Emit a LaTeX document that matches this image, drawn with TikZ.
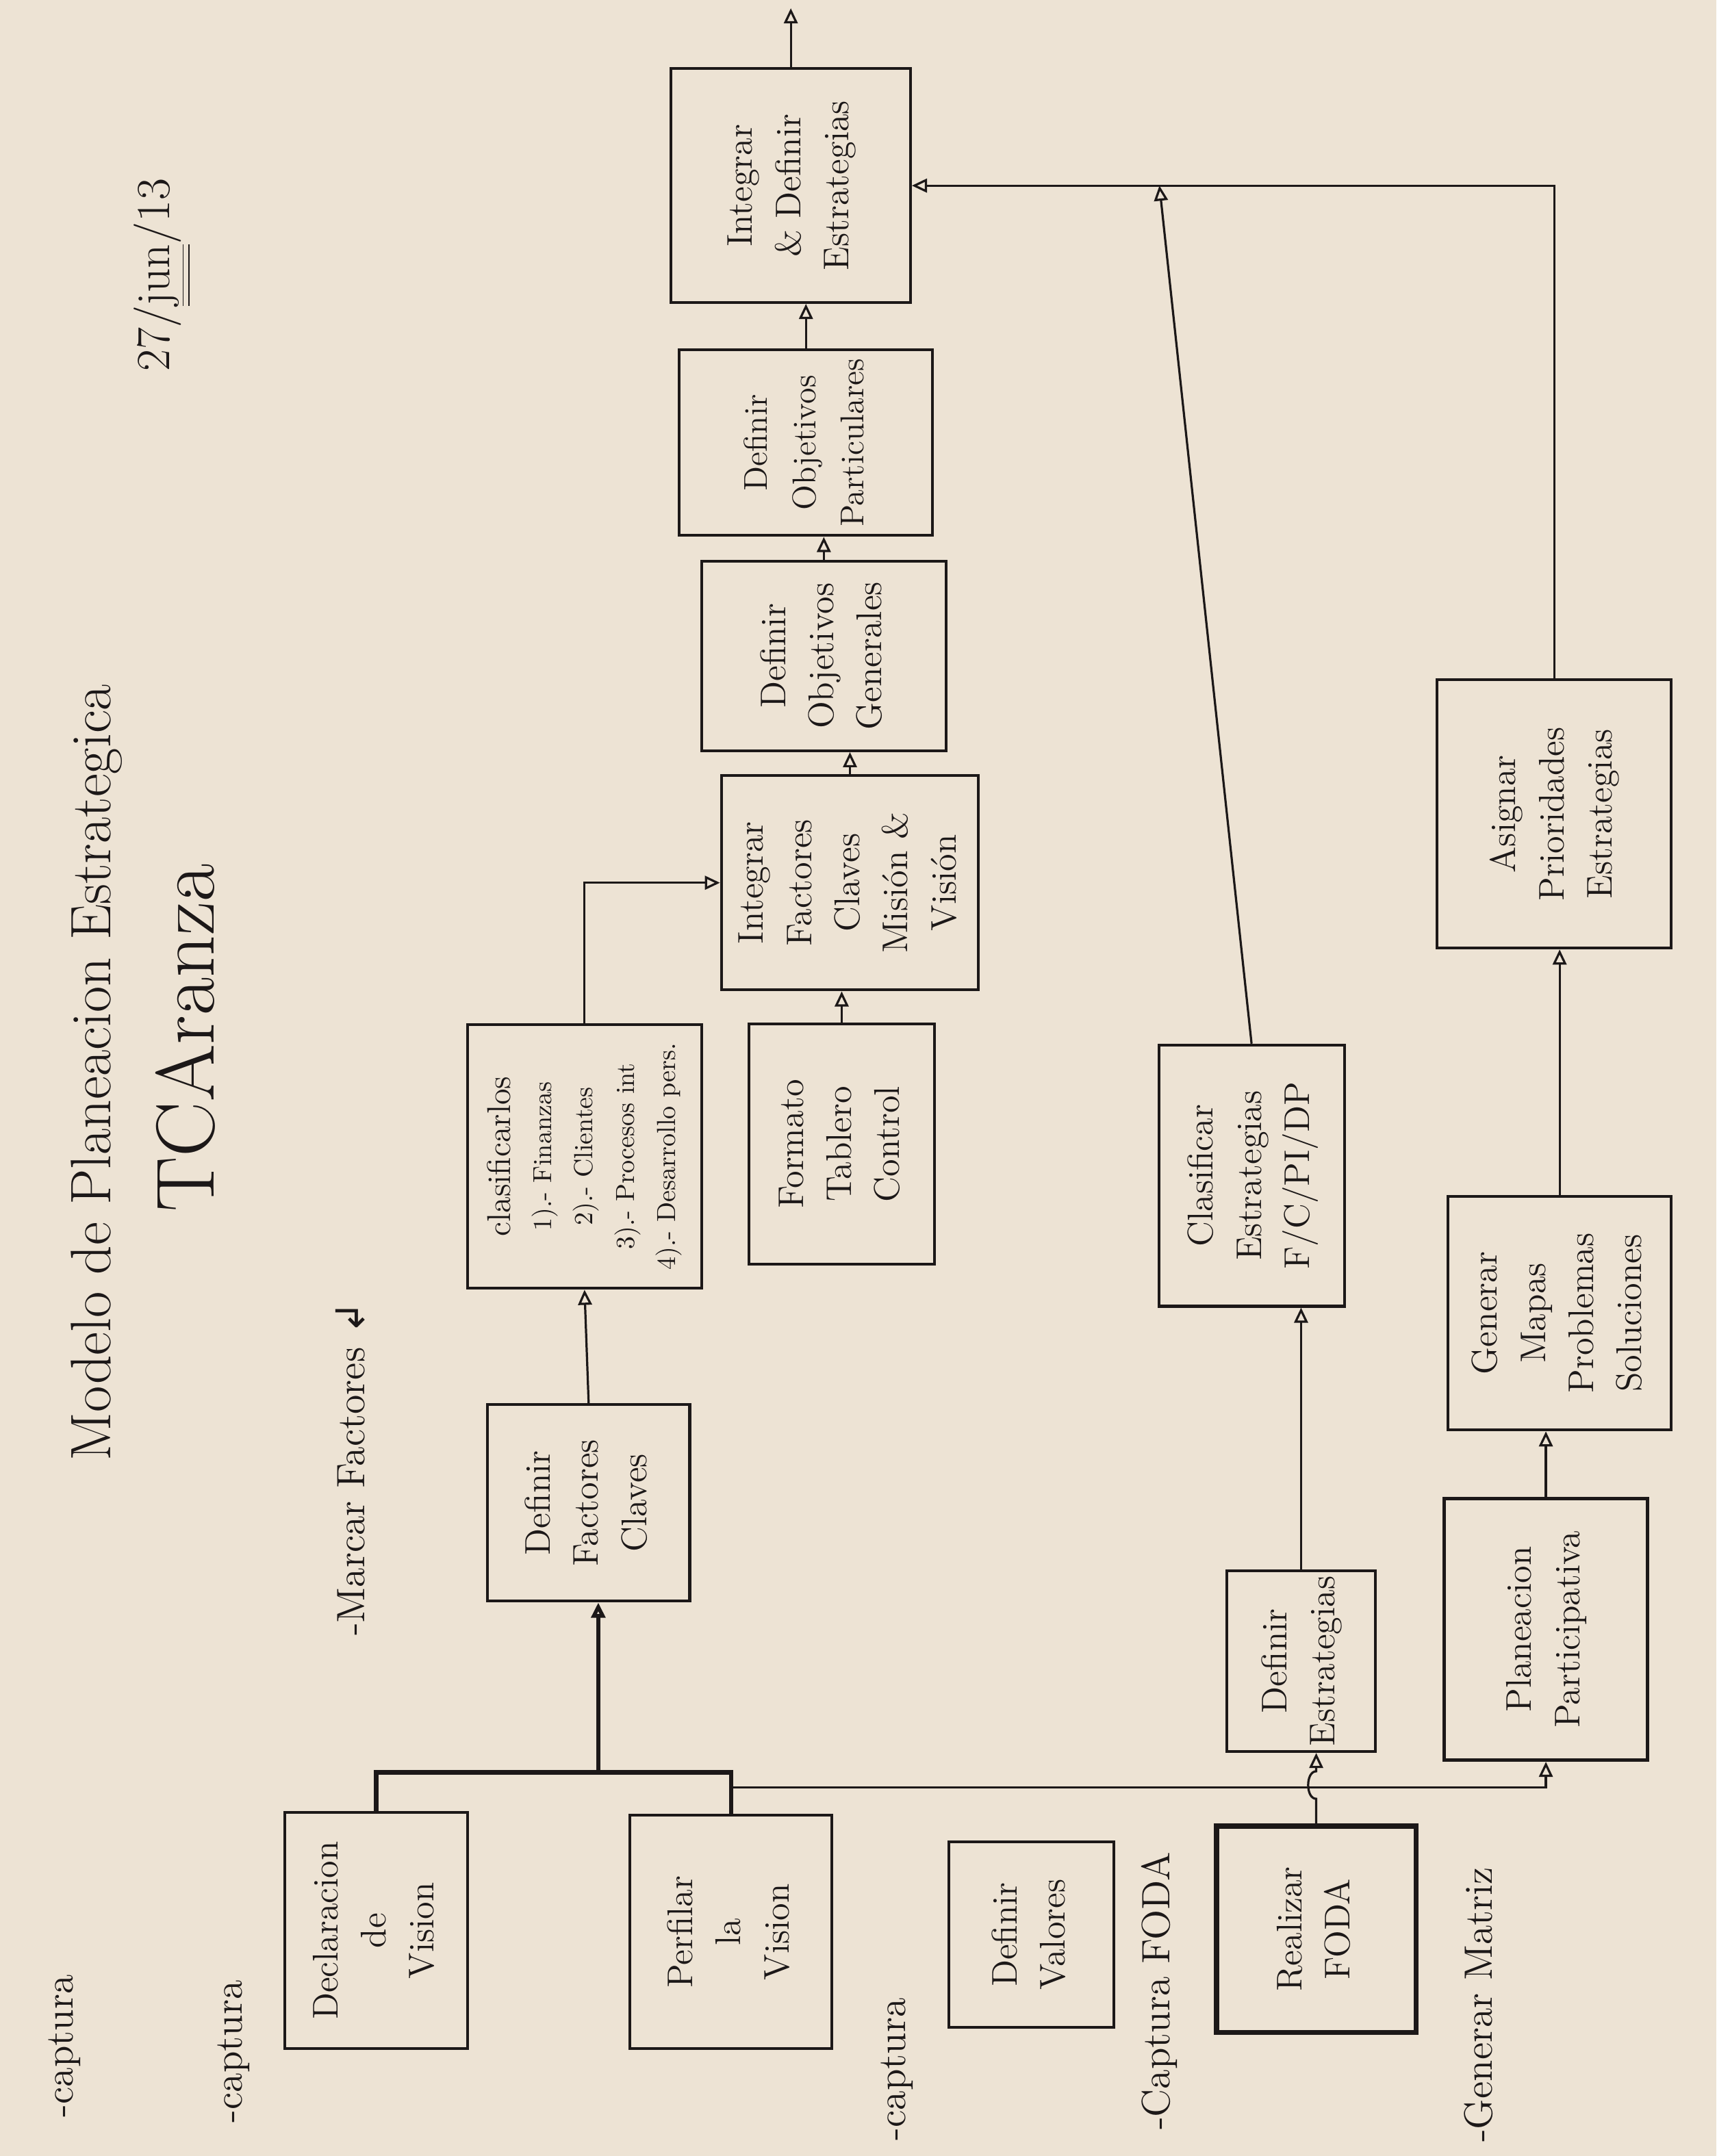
\documentclass[tikz,border=0pt]{standalone}
\usepackage{graphicx}
\usepackage{fontspec}
\newfontfamily\symfont{DejaVu Sans}
\usetikzlibrary{arrows.meta}
\definecolor{paper}{RGB}{237,227,212}
\definecolor{ink}{RGB}{28,24,24}
\newcommand{\vlines}[1]{\rotatebox{90}{\begin{tabular}{@{}c@{}}#1\end{tabular}}}
\newcommand{\lista}[1]{{\fontsize{9.5}{12}\selectfont #1}}
\tikzset{
  caja/.style={draw=ink, line width=1pt, inner sep=2pt, text=ink, font=\fontsize{13}{17.5}\selectfont},
  flecha/.style={draw=ink, line width=0.8pt, -{Triangle[open,length=5.5pt,width=5pt]}},
  nota/.style={text=ink, rotate=90, font=\Large},
}

\begin{document}
\begin{tikzpicture}[x=0.5pt,y=0.5pt,yscale=-1,xscale=1]
%Paper
\fill [paper] (0,0) rectangle (1248,1568);
\useasboundingbox (0,0) rectangle (1248,1568);

% Text Node
\node [text=ink, rotate=90, font=\huge] (titulo) at (70,780) {Modelo de Planeacion Estrategica};
% Text Node
\node [text=ink, rotate=90, font=\fontsize{30}{36}\selectfont] (autor) at (135,755) {TCAranza};
% Text Node
\node [text=ink, rotate=90, font=\LARGE] (fecha) at (118,200) {27/\underline{\underline{jun}}/13};

%Shape: Rectangle
\node [caja, minimum width=66.5pt, minimum height=86pt] (decl) at (273.5,1404) {\vlines{Declaracion\\de\\Vision}};
%Shape: Rectangle
\node [caja, minimum width=73.5pt, minimum height=85pt] (perf) at (531.5,1405) {\vlines{Perfilar\\la\\Vision}};
%Shape: Rectangle
\node [caja, minimum width=60pt, minimum height=67.5pt] (valo) at (750,1407) {\vlines{Definir\\Valores}};
%Shape: Rectangle
\node [caja, line width=1.8pt, minimum width=72.5pt, minimum height=75pt] (foda) at (957,1403) {\vlines{Realizar\\FODA}};
%Shape: Rectangle
\node [caja, minimum width=73.5pt, minimum height=71.5pt] (fact) at (428,1093) {\vlines{Definir\\Factores\\Claves}};
%Shape: Rectangle
\node [caja, font=\fontsize{12}{15}\selectfont, minimum width=85pt, minimum height=96pt] (clas) at (425,841) {\vlines{clasificarlos\\\lista{1).- Finanzas}\\\lista{2).- Clientes}\\\lista{3).- Procesos int}\\\lista{4).- Desarrollo pers.}}};
%Shape: Rectangle
\node [caja, minimum width=67.5pt, minimum height=87.5pt] (tabl) at (612,832) {\vlines{Formato\\Tablero\\Control}};
%Shape: Rectangle
\node [caja, minimum width=93.5pt, minimum height=78pt] (intf) at (618,642) {\vlines{Integrar\\Factores\\Claves\\Misión \&\\Visión}};
%Shape: Rectangle
\node [caja, minimum width=89pt, minimum height=69pt] (objg) at (599,477) {\vlines{Definir\\Objetivos\\Generales}};
%Shape: Rectangle
\node [caja, font=\fontsize{12}{17.5}\selectfont, minimum width=92pt, minimum height=67.5pt] (objp) at (586,322) {\vlines{Definir\\Objetivos\\Particulares}};
%Shape: Rectangle
\node [caja, minimum width=87pt, minimum height=85pt] (estr) at (575,135) {\vlines{Integrar\\\& Definir\\Estrategias}};
%Shape: Rectangle
\node [caja, minimum width=67.5pt, minimum height=95pt] (clae) at (910,855) {\vlines{Clasificar\\Estrategias\\F/C/PI/DP}};
%Shape: Rectangle
\node [caja, minimum width=54pt, minimum height=63.5pt] (defe) at (946,1208) {\vlines{Definir\\Estrategias}};
%Shape: Rectangle
\node [caja, line width=1.3pt, minimum width=74pt, minimum height=95pt] (plan) at (1124,1185) {\vlines{Planeacion\\Participativa}};
%Shape: Rectangle
\node [caja, minimum width=81pt, minimum height=85pt] (mapa) at (1134,955) {\vlines{Generar\\Mapas\\Problemas\\Soluciones}};
%Shape: Rectangle
\node [caja, minimum width=85pt, minimum height=97.5pt] (asig) at (1130,592) {\vlines{Asignar\\Prioridades\\Estrategias}};

% Text Node
\node [nota] (cap1) at (47,1488) {-captura};
% Text Node
\node [nota] (cap2) at (170,1492) {-captura};
% Text Node
\node [nota] (marc) at (255,1068) {-Marcar Factores {\symfont ↲}};
% Text Node
\node [nota] (cap3) at (652,1505) {-captura};
% Text Node
\node [nota] (cap4) at (843,1448) {-Captura FODA};
% Text Node
\node [nota] (matr) at (1075,1458) {-Generar Matriz};

\coordinate (junta) at (435,1289);
\coordinate (codo) at (540,1300);
\coordinate (cruce) at (843,135);
\coordinate (salida) at (575,6);

%Straight Lines
\draw [ink, line width=1.6pt] (decl.north) |- (junta) -| (perf.north);
\draw [flecha, line width=1.6pt] (junta) -- (junta |- fact.south);
%Straight Lines
\draw [flecha] (perf.north |- codo) -| (plan.south);
\draw [flecha] (foda.north) -- ++(0,-18) to[out=180,in=180] ++(0,-20) -- (foda.north |- defe.south);
%Straight Lines
\draw [flecha] (fact.north) -- (clas.south);
\draw [flecha] (clas.north) |- (intf.west);
\draw [flecha] (tabl.north) -- (tabl.north |- intf.south);
\draw [flecha] (intf.north) -- (intf.north |- objg.south);
\draw [flecha] (objg.north) -- (objg.north |- objp.south);
\draw [flecha] (objp.north) -- (objp.north |- estr.south);
\draw [flecha] (estr.north) -- (salida);
%Straight Lines
\draw [flecha] (defe.north) -- (defe.north |- clae.south);
\draw [flecha] (clae.north) -- (cruce);
\draw [flecha] (plan.north) -- (plan.north |- mapa.south);
\draw [flecha] (mapa.north) -- (mapa.north |- asig.south);
\draw [flecha] (asig.north) |- (estr.east);

\end{tikzpicture}
\end{document}
